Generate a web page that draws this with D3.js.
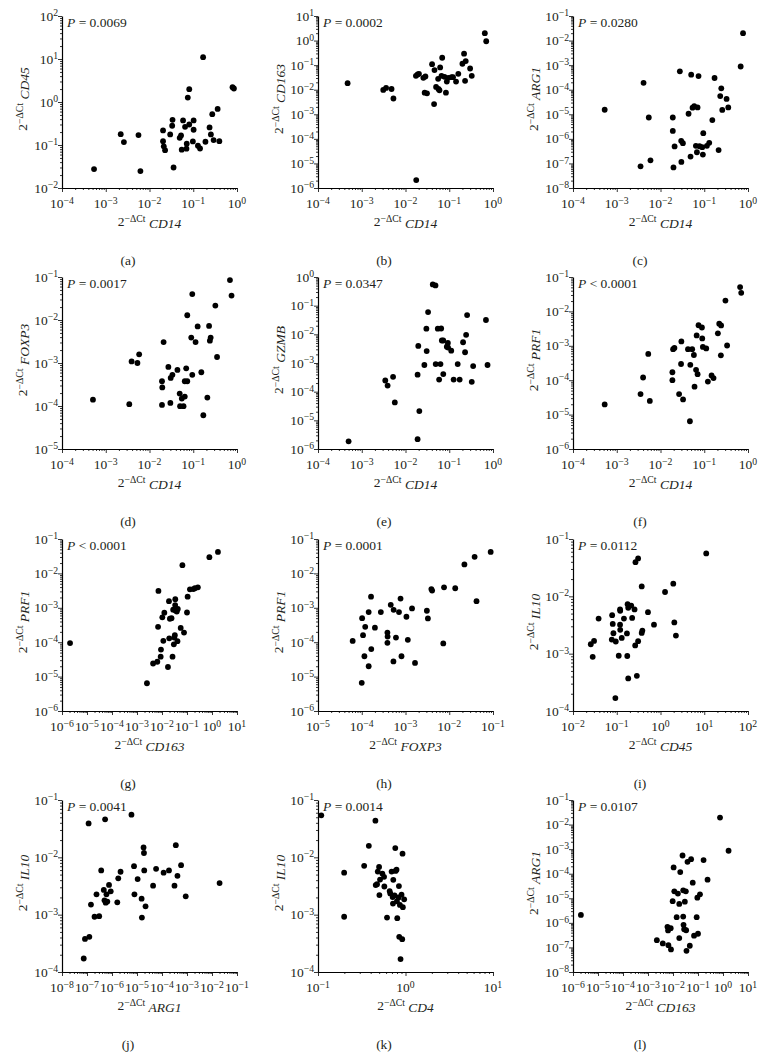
<!DOCTYPE html>
<html><head><meta charset="utf-8">
<script src="https://cdn.jsdelivr.net/npm/d3@7"></script>
<style>body{margin:0;background:#fff}svg{display:block}</style>
</head><body>
<svg id="chart" width="768" height="1052"></svg>
<script>
// ---- data ----
const panelLetters = ["a","b","c","d","e","f","g","h","i","j","k","l"];
const xGene = ["CD14","CD14","CD14","CD14","CD14","CD14","CD163","FOXP3","CD45","ARG1","CD4","CD163"];
const yGene = ["CD45","CD163","ARG1","FOXP3","GZMB","PRF1","PRF1","PRF1","IL10","IL10","IL10","ARG1"];
const pLabel = ["= 0.0069","= 0.0002","= 0.0280","= 0.0017","= 0.0347","< 0.0001","< 0.0001","= 0.0001","= 0.0112","= 0.0041","= 0.0014","= 0.0107"];
const xExp = [[-4,0],[-4,0],[-4,0],[-4,0],[-4,0],[-4,0],[-6,1],[-5,-1],[-2,2],[-8,-1],[-1,1],[-6,1]];
const yExp = [[-2,2],[-6,1],[-8,-1],[-5,-1],[-6,0],[-6,-1],[-6,-1],[-6,-1],[-4,-1],[-4,-1],[-4,-1],[-8,-1]];

const aX = [5.4e-4,2.2e-3,2.6e-3,5.6e-3,6.2e-3,0.0204,0.0204,0.0212,0.0227,0.0297,0.033,0.0336,0.0355,0.049,0.0526,0.0545,0.0585,0.065,0.07,0.071,0.075,0.081,0.081,0.102,0.102,0.098,0.128,0.143,0.168,0.19,0.236,0.253,0.272,0.292,0.361,0.395,0.79,0.85];
const aY = [0.0276,0.179,0.117,0.170,0.0248,0.218,0.123,0.093,0.076,0.176,0.28,0.385,0.030,0.147,0.167,0.078,0.372,0.265,0.082,0.107,1.27,1.99,0.30,0.372,0.226,0.121,0.096,0.083,11.0,0.119,0.256,0.176,0.52,0.13,0.69,0.123,2.21,2.06];
const bX = [4.75e-4,3.1e-3,3.6e-3,4.8e-3,5.3e-3,0.0173,0.0189,0.0203,0.0176,0.0256,0.0285,0.0274,0.031,0.0405,0.046,0.045,0.05,0.0557,0.0567,0.0598,0.062,0.0665,0.069,0.078,0.084,0.088,0.095,0.113,0.122,0.143,0.161,0.2,0.218,0.238,0.23,0.3,0.327,0.65,0.7];
const bY = [0.0184,0.0098,0.0118,0.0107,0.0044,0.0367,0.0417,0.0444,2.1e-6,0.0304,0.0345,0.0076,0.0071,0.11,0.063,0.0026,0.013,0.0277,0.0107,0.0095,0.081,0.0367,0.2,0.0334,0.0076,0.0215,0.0304,0.0324,0.0324,0.0215,0.0444,0.114,0.294,0.147,0.0229,0.073,0.0367,2.0,0.94];
const cX = [5.3e-4,3.5e-3,4.1e-3,5.4e-3,5.9e-3,0.0191,0.0191,0.0198,0.021,0.0277,0.0297,0.0325,0.030,0.0438,0.0486,0.0503,0.054,0.059,0.0644,0.068,0.0703,0.074,0.078,0.09,0.093,0.095,0.115,0.13,0.153,0.172,0.213,0.232,0.245,0.258,0.324,0.354,0.68,0.77];
const cY = [1.53e-5,7.6e-8,1.9e-4,7.4e-6,1.34e-7,7.4e-6,2.1e-6,6.9e-8,4.9e-7,5.6e-4,8.3e-7,6.7e-7,1.15e-7,1.05e-5,1.9e-7,4.1e-4,1.85e-5,2.16e-5,5.2e-7,2.85e-7,1.9e-5,3.6e-4,5.0e-7,4.6e-7,2.3e-7,1.7e-6,5.2e-7,6.9e-7,5.8e-6,3.0e-4,3.5e-7,5.5e-5,1.14e-4,1.5e-5,4.2e-5,1.9e-5,8.8e-4,0.020];
const dX = [5.1e-4,3.45e-3,3.9e-3,5.3e-3,5.8e-3,0.0193,0.0196,0.0193,0.021,0.027,0.030,0.0305,0.0334,0.0435,0.049,0.05,0.0547,0.06,0.064,0.064,0.069,0.073,0.073,0.09,0.095,0.095,0.113,0.126,0.153,0.17,0.21,0.23,0.25,0.24,0.32,0.35,0.69,0.75];
const dY = [1.4e-4,1.1e-4,1.09e-3,1.0e-3,1.59e-3,3.76e-4,2.7e-4,1.06e-4,3.06e-3,8.1e-4,1.18e-4,4.5e-4,5.3e-4,6.9e-4,1.95e-4,9.9e-5,1.49e-4,9.9e-5,1.66e-4,3.76e-4,7.5e-4,3.76e-4,0.0129,3.9e-3,0.040,5.3e-4,3.06e-3,7.1e-3,6.1e-4,6.1e-5,1.57e-4,7.3e-3,3.9e-3,3.3e-3,0.0217,1.38e-3,0.085,0.037];
const eX = [5.0e-4,3.45e-3,3.9e-3,5.2e-3,5.7e-3,0.0189,0.0196,0.0189,0.0207,0.027,0.030,0.0305,0.0328,0.042,0.0484,0.049,0.0547,0.0587,0.063,0.0654,0.0677,0.073,0.073,0.088,0.093,0.094,0.111,0.126,0.156,0.173,0.207,0.23,0.243,0.256,0.327,0.352,0.69,0.75];
const eY = [1.85e-6,2.45e-4,1.63e-4,3.3e-4,4.2e-5,3.9e-4,3.95e-3,2.2e-6,2.1e-5,8.5e-4,0.0157,2.6e-3,0.060,0.55,0.51,9.2e-4,0.0157,2.65e-4,9.2e-4,0.016,6.1e-3,6.1e-3,4.1e-4,3.7e-3,5.0e-3,3.45e-3,2.7e-3,2.65e-4,9.2e-4,2.65e-4,5.3e-3,2.37e-3,9.6e-3,0.047,2.2e-4,7.8e-4,0.0316,8.5e-4];
const fX = [5.3e-4,3.5e-3,4.0e-3,5.25e-3,5.7e-3,0.0187,0.0187,0.0194,0.0208,0.0266,0.0295,0.030,0.0328,0.0425,0.048,0.047,0.053,0.058,0.06,0.065,0.067,0.0705,0.074,0.0885,0.09,0.093,0.111,0.121,0.147,0.163,0.205,0.22,0.243,0.24,0.305,0.333,0.66,0.70];
const fY = [1.97e-5,3.96e-5,1.2e-4,5.8e-4,2.5e-5,1.7e-4,1.0e-4,8.0e-4,8.7e-4,3.96e-5,2.96e-4,1.34e-3,2.76e-5,8.0e-4,2.8e-4,6.4e-6,8.0e-4,5.4e-4,6.5e-5,2.0e-4,2.0e-3,1.5e-4,3.96e-3,3.4e-3,1.64e-3,9.3e-4,8.4e-4,9.1e-5,1.37e-4,1.15e-4,2.3e-3,4.4e-3,3.9e-3,5.3e-4,0.0206,1.02e-3,0.051,0.0346];
const gX = [2.1e-6,2.5e-3,4.4e-3,6.5e-3,6.95e-3,7.2e-3,8.85e-3,9.1e-3,0.0103,0.0113,0.0124,0.0173,0.019,0.0195,0.0207,0.024,0.0264,0.028,0.0298,0.0326,0.031,0.0336,0.034,0.0346,0.039,0.0415,0.0428,0.056,0.0655,0.076,0.1,0.106,0.131,0.178,0.207,0.272,0.785,1.73];
const gY = [9.4e-5,6.4e-6,2.4e-5,2.7e-5,2.8e-4,3.1e-3,3.8e-5,6.1e-5,5.3e-4,1.1e-4,7.2e-4,1.9e-5,1.56e-3,1.3e-4,4.8e-4,5.0e-4,3.8e-5,8.8e-4,8.7e-5,1.6e-4,1.36e-4,1.2e-3,1.78e-3,8.4e-4,7.8e-4,1.07e-4,9.3e-4,2.6e-4,0.0174,1.9e-4,7.3e-4,2.1e-3,3.45e-3,3.5e-3,3.7e-3,3.95e-3,0.0296,0.042];
const hX = [6.2e-5,1.0e-4,1.02e-4,1.07e-4,1.15e-4,1.2e-4,1.44e-4,1.44e-4,1.63e-4,1.65e-4,2.0e-4,2.73e-4,3.86e-4,3.9e-4,3.86e-4,4.6e-4,5.3e-4,5.36e-4,6.05e-4,7.1e-4,7.7e-4,8.1e-4,1.05e-3,1.13e-3,1.41e-3,1.65e-3,3.08e-3,3.25e-3,3.9e-3,4.06e-3,7.3e-3,7.6e-3,0.0137,0.0222,0.038,0.042,0.0885];
const hY = [1.09e-4,6.6e-6,5.0e-4,1.6e-4,3.9e-5,2.8e-4,2.0e-5,7.5e-4,2.1e-3,6.3e-5,2.65e-4,7.5e-4,1.9e-4,1.46e-4,9.6e-5,1.22e-3,2.77e-5,8.75e-4,1.36e-4,7.5e-4,1.86e-3,3.9e-5,5.5e-4,1.17e-4,9.6e-4,2.5e-5,8.2e-4,4.9e-4,3.5e-3,3.16e-3,9.2e-5,3.95e-3,3.7e-3,0.0182,0.0303,1.56e-3,0.042];
const iX = [0.0255,0.0282,0.0303,0.0385,0.0785,0.077,0.081,0.084,0.093,0.095,0.111,0.119,0.12,0.119,0.12,0.13,0.146,0.171,0.174,0.177,0.183,0.183,0.214,0.225,0.255,0.268,0.264,0.288,0.308,0.308,0.372,0.372,0.385,0.517,0.71,1.27,1.96,2.07,2.25,11.1];
const iY = [1.46e-3,8.8e-4,1.67e-3,4.1e-3,4.7e-3,1.76e-3,3.3e-3,2.27e-3,1.68e-4,1.63e-3,9.2e-4,5.9e-3,5.6e-3,3.2e-3,2.6e-3,1.88e-3,4.1e-3,2.25e-3,9.1e-4,7.3e-3,6.3e-3,3.7e-4,6.9e-3,4.2e-3,5.9e-3,0.0395,1.39e-3,4.1e-4,0.0458,1.65e-3,0.0149,2.3e-3,2.53e-3,5.3e-3,3.2e-3,0.0119,0.0166,3.5e-3,2.07e-3,0.056];
const jX = [7.4e-8,8.3e-8,1.24e-7,1.16e-7,1.44e-7,2.0e-7,2.4e-7,3.07e-7,3.7e-7,4.7e-7,5.0e-7,5.3e-7,5.6e-7,6.0e-7,6.5e-7,7.6e-7,8.9e-7,1.63e-6,1.78e-6,2.2e-6,6.0e-6,7.6e-6,7.9e-6,1.06e-5,1.53e-5,1.57e-5,1.83e-5,1.9e-5,1.95e-5,2.2e-5,4.4e-5,5.8e-5,1.16e-4,1.9e-4,3.16e-4,3.57e-4,4.15e-4,5.8e-4,8.9e-4,0.0201];
const jY = [1.72e-4,3.77e-4,4.1e-4,0.039,1.5e-3,9.2e-4,2.26e-3,9.4e-4,5.9e-3,2.7e-3,1.78e-3,0.046,1.62e-3,2.26e-3,1.69e-3,3.3e-3,2.55e-3,1.64e-3,4.3e-3,5.6e-3,0.0555,7.0e-3,2.26e-3,4.17e-3,1.9e-3,8.9e-4,0.0149,0.0119,5.9e-3,1.4e-3,3.2e-3,6.3e-3,5.4e-3,5.9e-3,3.2e-3,0.0163,4.75e-3,7.3e-3,2.09e-3,3.55e-3];
const kX = [0.109,0.199,0.199,0.337,0.381,0.453,0.457,0.473,0.482,0.499,0.503,0.512,0.544,0.569,0.573,0.615,0.659,0.67,0.694,0.725,0.713,0.719,0.75,0.764,0.77,0.79,0.797,0.805,0.834,0.841,0.848,0.863,0.878,0.901,0.917,0.925,0.933,0.966];
const kY = [0.054,5.4e-3,9.2e-4,7.1e-3,0.0159,0.0436,3.28e-3,3.4e-3,5.65e-3,6.8e-3,2.2e-3,4.1e-3,5.2e-3,4.57e-3,3.1e-3,8.9e-4,2.58e-3,2.35e-3,5.65e-3,4.06e-3,2.03e-3,1.56e-3,2.17e-3,0.0145,5.8e-3,6.1e-3,1.71e-3,8.7e-4,2.0e-3,3.15e-3,4.1e-4,1.48e-3,1.68e-4,2.23e-3,3.73e-4,0.0116,1.35e-3,1.85e-3];
const lX = [2.07e-6,2.26e-3,3.9e-3,6.0e-3,6.35e-3,6.55e-3,8.1e-3,8.3e-3,9.7e-3,0.0106,0.0113,0.014,0.0157,0.0178,0.0178,0.0195,0.0241,0.0256,0.0256,0.0264,0.028,0.0298,0.0326,0.0336,0.0346,0.038,0.047,0.053,0.0616,0.0695,0.0885,0.094,0.1,0.12,0.167,0.241,0.76,1.67];
const lY = [2.1e-6,1.98e-7,1.45e-7,6.9e-7,4.9e-7,1.24e-7,6.1e-7,8.3e-8,7.6e-6,1.8e-4,1.92e-5,1.7e-6,1.55e-5,5.9e-6,2.4e-7,1.17e-4,5.5e-4,1.8e-6,2.1e-5,8.3e-7,5.5e-7,7.3e-6,1.92e-5,5.0e-7,7.3e-8,3.06e-4,1.17e-7,3.9e-4,4.3e-5,3.0e-7,1.7e-6,1.06e-5,3.6e-7,1.45e-5,3.6e-4,5.7e-5,0.0192,8.6e-4];

const xValues = [aX,bX,cX,dX,eX,fX,gX,hX,iX,jX,kX,lX];
const yValues = [aY,bY,cY,dY,eY,fY,gY,hY,iY,jY,kY,lY];

// ---- font choice: Times-like if available, else a condensed serif ----
function fontAvailable(name) {
  const ctx = document.createElement("canvas").getContext("2d");
  const s = "mmmmmwwwwwlli0123456789ABCDE";
  ctx.font = "40px monospace"; const w0 = ctx.measureText(s).width;
  ctx.font = `40px '${name}', monospace`; const w1 = ctx.measureText(s).width;
  return Math.abs(w0 - w1) > 0.5;
}
let FONT, FS;
if (fontAvailable("Liberation Serif")) { FONT = "'Liberation Serif', serif"; FS = 13.5; }
else if (fontAvailable("DejaVu Serif Condensed")) { FONT = "'DejaVu Serif Condensed', 'DejaVu Serif', serif"; FS = 12.3; }
else { FONT = "'DejaVu Serif', serif"; FS = 11.5; }

// ---- layout ----
const colStart = [0, 256, 512];
const axisLeft = [62, 318, 573];
const rowTop = [16, 277, 539, 800];
const W = 175, H = 172;
const INK = "#231f20";

const svg = d3.select("#chart");
svg.append("rect").attr("width",768).attr("height",1052).attr("fill","#fff");

function sup(e){ return (e < 0 ? "\u2212" : "") + Math.abs(e); }

panelLetters.forEach((letter, i) => {
  const col = i % 3, row = Math.floor(i / 3);
  const g = svg.append("g").attr("transform", `translate(${axisLeft[col]},${rowTop[row]})`)
    .attr("font-family", FONT);
  const [x0, x1] = xExp[i], [y0, y1] = yExp[i];
  const x = d3.scaleLog().domain([10 ** x0, 10 ** x1]).range([0, W]);
  const y = d3.scaleLog().domain([10 ** y0, 10 ** y1]).range([H, 0]);

  const xMaj = d3.range(x0, x1 + 1).map(e => 10 ** e);
  const yMaj = d3.range(y0, y1 + 1).map(e => 10 ** e);
  const xMin = [], yMin = [];
  d3.range(x0, x1).forEach(e => { for (let k = 2; k < 10; k++) xMin.push(k * 10 ** e); });
  d3.range(y0, y1).forEach(e => { for (let k = 2; k < 10; k++) yMin.push(k * 10 ** e); });

  // axes
  const xa = g.append("g").attr("transform", `translate(0,${H})`);
  xa.call(d3.axisBottom(x).tickValues(xMin).tickSize(2).tickSizeOuter(0).tickFormat(""));
  xa.append("g").call(d3.axisBottom(x).tickValues(xMaj).tickSize(4).tickSizeOuter(0).tickFormat("")).select(".domain").remove();
  const ya = g.append("g");
  ya.call(d3.axisLeft(y).tickValues(yMin).tickSize(2).tickSizeOuter(0).tickFormat(""));
  ya.append("g").call(d3.axisLeft(y).tickValues(yMaj).tickSize(4).tickSizeOuter(0).tickFormat("")).select(".domain").remove();
  g.selectAll(".domain").attr("stroke", "#000").attr("stroke-width", 1.2);
  g.selectAll(".tick line").attr("stroke", "#000").attr("stroke-width", 0.8);

  // x tick labels
  d3.range(x0, x1 + 1).forEach(e => {
    const t = g.append("text").attr("x", x(10 ** e)).attr("y", H + 20)
      .attr("text-anchor", "middle").attr("font-size", FS).attr("fill", INK);
    t.append("tspan").text("10");
    t.append("tspan").attr("dy", "-0.45em").attr("font-size", "72%").text(sup(e));
  });
  // y tick labels
  d3.range(y0, y1 + 1).forEach(e => {
    const t = g.append("text").attr("x", -4).attr("y", y(10 ** e) + 4.5)
      .attr("text-anchor", "end").attr("font-size", FS).attr("fill", INK);
    t.append("tspan").text("10");
    t.append("tspan").attr("dy", "-0.45em").attr("font-size", "72%").text(sup(e));
  });

  // axis titles
  const xt = g.append("text").attr("x", W / 2).attr("y", H + 38)
    .attr("text-anchor", "middle").attr("font-size", FS).attr("fill", INK);
  xt.append("tspan").text("2");
  xt.append("tspan").attr("dy", "-0.45em").attr("font-size", "72%").text("\u2212\u0394Ct");
  xt.append("tspan").attr("dy", "0.45em").text("\u00a0");
  xt.append("tspan").attr("font-style", "italic").text(xGene[i]);

  const yt = g.append("text").attr("transform", `translate(-35,${H / 2 - 3}) rotate(-90)`)
    .attr("text-anchor", "middle").attr("font-size", FS).attr("fill", INK);
  yt.append("tspan").text("2");
  yt.append("tspan").attr("dy", "-0.45em").attr("font-size", "72%").text("\u2212\u0394Ct");
  yt.append("tspan").attr("dy", "0.45em").text("\u00a0");
  yt.append("tspan").attr("font-style", "italic").text(yGene[i]);

  // P value
  const pt = g.append("text").attr("x", 5).attr("y", 11)
    .attr("font-size", FS).attr("fill", INK);
  pt.append("tspan").attr("font-style", "italic").text("P");
  pt.append("tspan").text(" " + pLabel[i]);

  // points
  const pts = xValues[i].map((v, k) => [v, yValues[i][k]]);
  g.append("g").selectAll("circle").data(pts).join("circle")
    .attr("cx", d => x(d[0])).attr("cy", d => y(d[1])).attr("r", 2.9).attr("fill", "#000");

  // caption
  svg.append("text").attr("x", colStart[col] + 128).attr("y", rowTop[row] + H + 77)
    .attr("text-anchor", "middle").attr("font-size", FS).attr("fill", INK)
    .attr("font-family", FONT).text(`(${letter})`);
});
</script>
</body></html>
